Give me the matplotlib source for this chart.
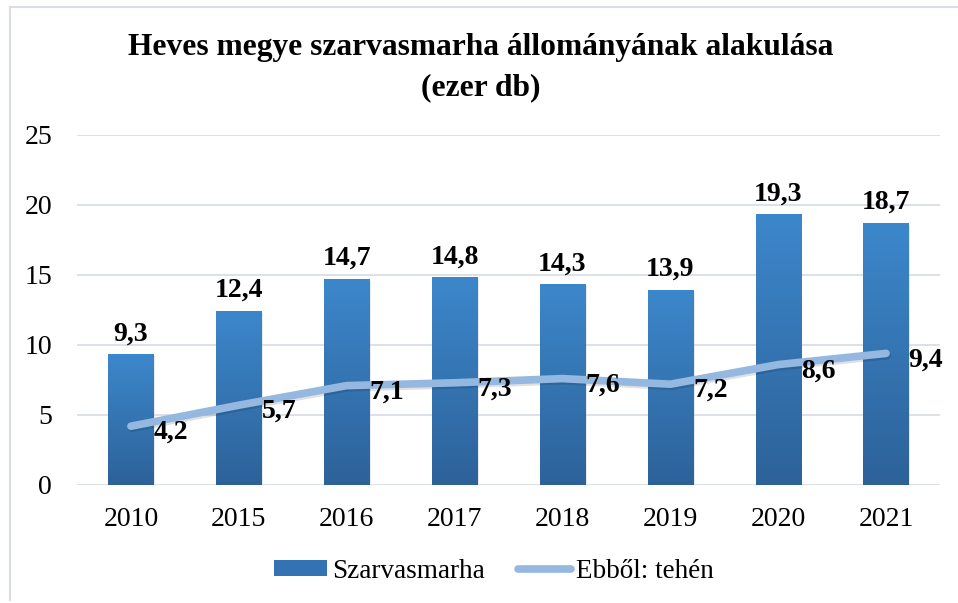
import numpy as np
import matplotlib.pyplot as plt
import matplotlib.patheffects as pe
from matplotlib.colors import LinearSegmentedColormap
from matplotlib.lines import Line2D
from matplotlib.patches import Patch

plt.rcParams['font.family'] = ['Liberation Serif', 'DejaVu Serif']

# adatok
evek = ['2010', '2015', '2016', '2017', '2018', '2019', '2020', '2021']
szarvasmarha = [9.3, 12.4, 14.7, 14.8, 14.3, 13.9, 19.3, 18.7]
tehen = [4.2, 5.7, 7.1, 7.3, 7.6, 7.2, 8.6, 9.4]
yticks = [0, 5, 10, 15, 20, 25]

W, H = 958, 603
fig = plt.figure(figsize=(W / 100, H / 100), dpi=100)
ax = fig.add_axes([77 / W, 1 - 485 / H, (940 - 77) / W, (485 - 135) / H])

x = np.arange(len(evek))
bw = 0.42
cmap = LinearSegmentedColormap.from_list('kek', ['#2D6299', '#3C87CB'])
grad = np.linspace(0, 1, 256).reshape(-1, 1)

for xi, v in zip(x, szarvasmarha):
    # halvany arnyek
    ax.bar(xi + 0.015, v, bw, bottom=-0.12, color='#c8ccd2', alpha=0.4, zorder=1.5)
    ax.imshow(grad, extent=[xi - bw / 2, xi + bw / 2, 0, v], origin='lower',
              aspect='auto', cmap=cmap, zorder=2)
    ax.text(xi, v + 0.6, f'{v:.1f}'.replace('.', ','), ha='center', va='bottom',
            fontsize=20, fontweight='bold')

ax.plot(x, tehen, color='#95B8E0', lw=5.5, solid_capstyle='round', zorder=3,
        path_effects=[pe.SimpleLineShadow(offset=(1, -1.5), alpha=0.12), pe.Normal()])
for xi, v in zip(x, tehen):
    ax.text(xi + 0.21, v - 0.45, f'{v:.1f}'.replace('.', ','), ha='left', va='center',
            fontsize=20, fontweight='bold', zorder=4)

ax.set_xlim(-0.5, len(evek) - 0.5)
ax.set_ylim(0, 25)
ax.set_yticks(yticks)
ax.set_xticks(x)
ax.set_xticklabels(evek)
ax.tick_params(length=0, labelsize=20)
ax.tick_params(axis='x', pad=16)
ax.tick_params(axis='y', pad=18)
ax.grid(axis='y', color='#D9DEE6', lw=1.3)
ax.set_axisbelow(True)
for s in ax.spines.values():
    s.set_visible(False)

fig.text(481 / W, 1 - 48 / H, 'Heves megye szarvasmarha állományának alakulása',
         ha='center', va='center', fontsize=22.7, fontweight='bold')
fig.text(481 / W, 1 - 88 / H, '(ezer db)', ha='center', va='center',
         fontsize=22.7, fontweight='bold')

handles = [Patch(facecolor='#3473B3'),
           Line2D([0], [0], color='#95B8E0', lw=5.5, solid_capstyle='round')]
fig.legend(handles, ['Szarvasmarha', 'Ebből: tehén'], loc='center',
           bbox_to_anchor=(494 / W, 1 - 571 / H), ncol=2, frameon=False,
           fontsize=19.5, handlelength=1.95, handleheight=0.5, columnspacing=1.2,
           handletextpad=0.2)

# keret
fig.add_artist(Line2D([9.5 / W, 9.5 / W], [1 - 600 / H, 1 - 7 / H], color='#D9DEE6', lw=1.5))
fig.add_artist(Line2D([9.5 / W, 1], [1 - 7 / H, 1 - 7 / H], color='#D9DEE6', lw=1.5))

fig.savefig('out.png', dpi=100)
